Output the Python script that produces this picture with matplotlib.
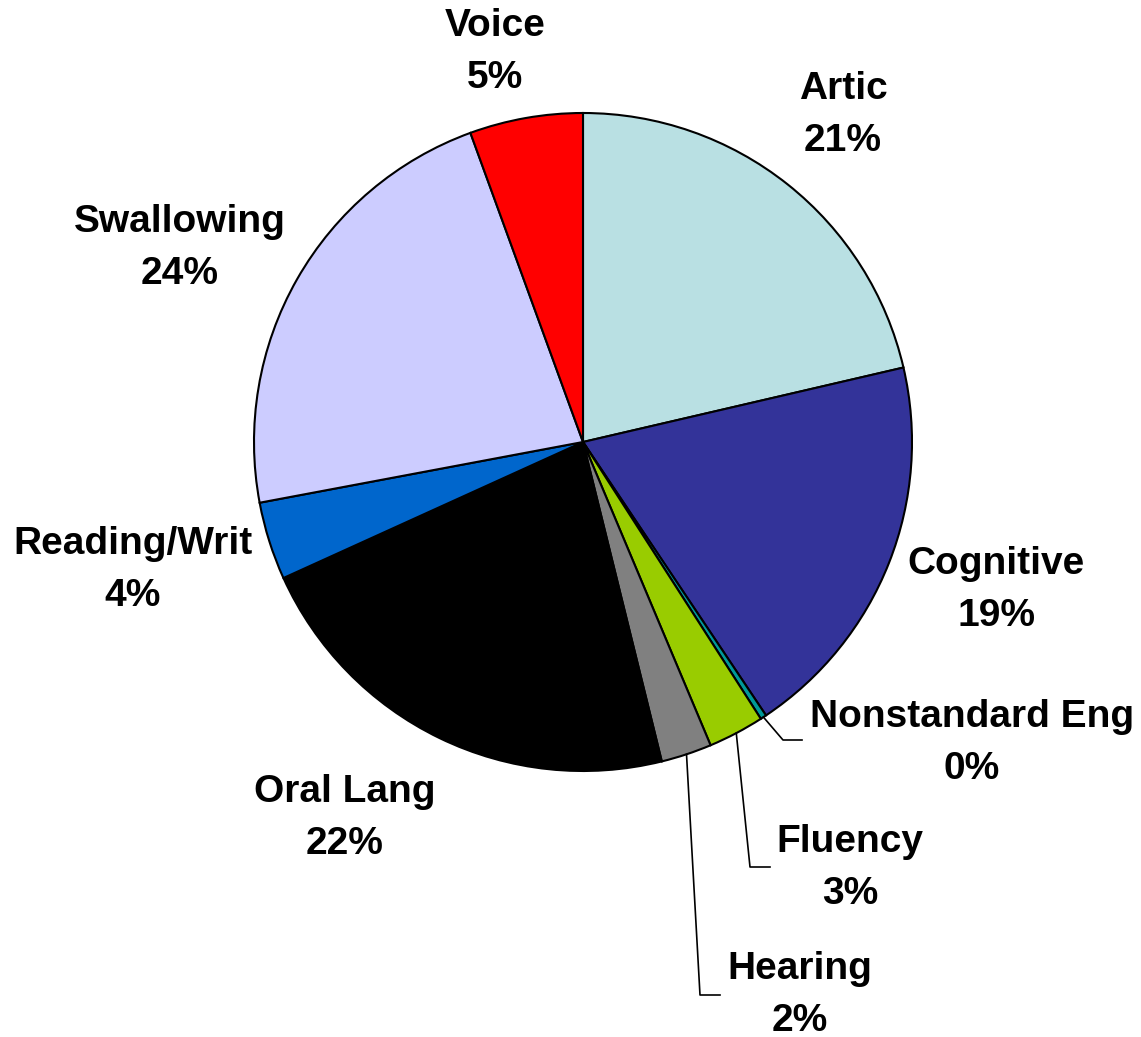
import numpy as np
import matplotlib
matplotlib.use("Agg")
import matplotlib.pyplot as plt

# data (slice sizes in percent, clockwise from top)
categories = ["Artic", "Cognitive", "Nonstandard Eng", "Fluency", "Hearing",
              "Oral Lang", "Reading/Writ", "Swallowing", "Voice"]
values = [21.37, 19.25, 0.3, 2.75, 2.49, 22.07, 3.83, 22.4, 5.56]
pct_labels = ["21%", "19%", "0%", "3%", "2%", "22%", "4%", "24%", "5%"]
colors = ["#B9E0E3", "#333399", "#009999", "#99CC00", "#808080",
          "#000000", "#0066CC", "#CCCCFF", "#FF0000"]

W, H = 1141, 1037
cx, cy, r = 583, H - 442, 329

# label centres in pixel coords (y from top)
label_pos = {
    "Artic": (843, 115),
    "Cognitive": (996, 590),
    "Nonstandard Eng": (972, 743),
    "Fluency": (850, 868),
    "Hearing": (800, 995),
    "Oral Lang": (345, 818),
    "Reading/Writ": (133, 570),
    "Swallowing": (180, 248),
    "Voice": (495, 52),
}
# elbow points for leader lines (pixel coords, y from top)
leaders = {
    "Nonstandard Eng": [(783, 740), (802, 740)],
    "Fluency": [(750, 867), (770, 867)],
    "Hearing": [(700, 995), (720, 995)],
}

fig = plt.figure(figsize=(W / 100, H / 100), dpi=100)
ax = fig.add_axes([0, 0, 1, 1])

wedges, _ = ax.pie(values, colors=colors, startangle=90, counterclock=False,
                   center=(cx, cy), radius=r, frame=True,
                   wedgeprops=dict(edgecolor="black", linewidth=1.5))
ax.set_xlim(0, W)
ax.set_ylim(0, H)
ax.set_aspect("auto")
ax.axis("off")

for w, name, pct in zip(wedges, categories, pct_labels):
    px, py = label_pos[name]
    ax.text(px, H - py, name + "\n" + pct, ha="center", va="center",
            fontsize=28, fontweight="bold", family="Liberation Sans",
            linespacing=1.6)
    if name in leaders:
        mid = np.deg2rad((w.theta1 + w.theta2) / 2)
        xs = [cx + r * np.cos(mid)] + [p[0] for p in leaders[name]]
        ys = [cy + r * np.sin(mid)] + [H - p[1] for p in leaders[name]]
        ax.plot(xs, ys, color="black", linewidth=1.2)

fig.savefig("out.png", dpi=100)
